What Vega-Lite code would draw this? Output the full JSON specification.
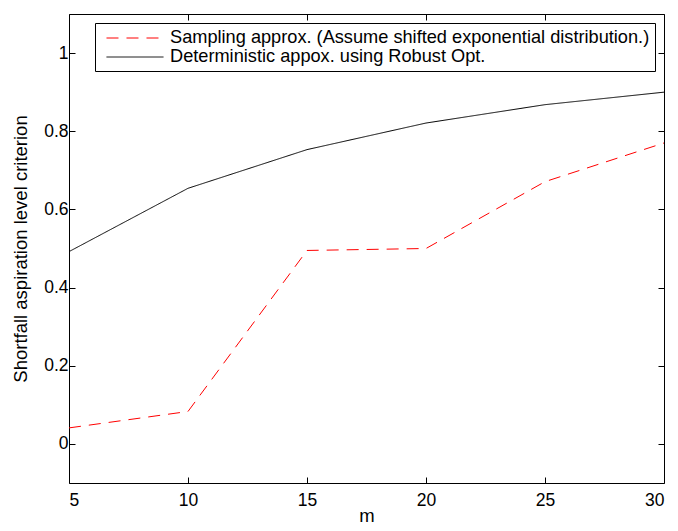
{
  "$schema": "https://vega.github.io/schema/vega-lite/v6.json",
  "width": 595,
  "height": 469,
  "autosize": {"type": "none"},
  "padding": {"left": 69, "top": 14, "right": 14, "bottom": 48},
  "background": "white",
  "config": {
    "view": {"stroke": null},
    "font": "Liberation Sans",
    "axis": {
      "domainColor": "black",
      "domainWidth": 1,
      "tickColor": "black",
      "tickWidth": 1,
      "tickSize": -6,
      "labelColor": "black",
      "titleColor": "black",
      "labelFont": "Liberation Sans",
      "titleFont": "Liberation Sans",
      "labelFontSize": 17.5,
      "titleFontSize": 18.5,
      "titleFontWeight": "normal",
      "grid": false
    },
    "legend": {
      "labelFont": "Liberation Sans",
      "labelFontSize": 18.2,
      "labelColor": "black",
      "labelLimit": 700
    }
  },
  "data": {
    "values": [
      {"m": 5, "value": 0.041, "series": "Sampling approx. (Assume shifted exponential distribution.)"},
      {"m": 10, "value": 0.083, "series": "Sampling approx. (Assume shifted exponential distribution.)"},
      {"m": 15, "value": 0.495, "series": "Sampling approx. (Assume shifted exponential distribution.)"},
      {"m": 20, "value": 0.5, "series": "Sampling approx. (Assume shifted exponential distribution.)"},
      {"m": 25, "value": 0.671, "series": "Sampling approx. (Assume shifted exponential distribution.)"},
      {"m": 30, "value": 0.77, "series": "Sampling approx. (Assume shifted exponential distribution.)"},
      {"m": 5, "value": 0.492, "series": "Deterministic appox. using Robust Opt."},
      {"m": 10, "value": 0.654, "series": "Deterministic appox. using Robust Opt."},
      {"m": 15, "value": 0.753, "series": "Deterministic appox. using Robust Opt."},
      {"m": 20, "value": 0.821, "series": "Deterministic appox. using Robust Opt."},
      {"m": 25, "value": 0.868, "series": "Deterministic appox. using Robust Opt."},
      {"m": 30, "value": 0.9, "series": "Deterministic appox. using Robust Opt."}
    ]
  },
  "layer": [
    {
      "transform": [{"filter": "datum.series == 'Sampling approx. (Assume shifted exponential distribution.)'"}],
      "mark": {"type": "line", "strokeWidth": 1},
      "encoding": {
        "x": {
          "field": "m", "type": "quantitative",
          "scale": {"domain": [5, 30], "nice": false, "zero": false},
          "axis": {"orient": "bottom", "values": [5, 10, 15, 20, 25, 30], "title": "m", "labelPadding": 14, "titlePadding": 13, "titleBaseline": "alphabetic"}
        },
        "y": {
          "field": "value", "type": "quantitative",
          "scale": {"domain": [-0.1, 1.1], "nice": false, "zero": false},
          "axis": {"orient": "left", "values": [0, 0.2, 0.4, 0.6, 0.8, 1], "title": "Shortfall aspiration level criterion", "labelPadding": 7, "titlePadding": 13,
            "labelExpr": "datum.value == 0 ? '0' : datum.value == 1 ? '1' : format(datum.value, '.1f')"}
        },
        "color": {
          "field": "series", "type": "nominal",
          "scale": {"domain": ["Sampling approx. (Assume shifted exponential distribution.)", "Deterministic appox. using Robust Opt."], "range": ["#ff0000", "#000000"]},
          "legend": {"title": null, "orient": "none", "legendX": 26, "legendY": 9, "symbolType": "M-0.37,0H5.63", "symbolSize": 361, "symbolStrokeWidth": 1, "rowPadding": 0, "labelOffset": 50, "padding": 5, "strokeColor": "black", "fillColor": "white"}
        },
        "strokeDash": {
          "field": "series", "type": "nominal",
          "scale": {"domain": ["Sampling approx. (Assume shifted exponential distribution.)", "Deterministic appox. using Robust Opt."], "range": [[12, 8], [1, 0]]},
          "legend": {"title": null, "orient": "none", "legendX": 26, "legendY": 9, "symbolType": "M-0.37,0H5.63", "symbolSize": 361, "symbolStrokeWidth": 1, "rowPadding": 0, "labelOffset": 50, "padding": 5, "strokeColor": "black", "fillColor": "white"}
        }
      }
    },
    {
      "transform": [{"filter": "datum.series == 'Deterministic appox. using Robust Opt.'"}],
      "mark": {"type": "line", "strokeWidth": 1},
      "encoding": {
        "x": {
          "field": "m", "type": "quantitative",
          "axis": {"orient": "top", "values": [5, 10, 15, 20, 25, 30], "labels": false, "title": null}
        },
        "y": {
          "field": "value", "type": "quantitative",
          "axis": {"orient": "right", "values": [0, 0.2, 0.4, 0.6, 0.8, 1], "labels": false, "title": null}
        },
        "color": {"field": "series", "type": "nominal"},
        "strokeDash": {"field": "series", "type": "nominal"}
      }
    }
  ],
  "resolve": {"axis": {"x": "independent", "y": "independent"}}
}
